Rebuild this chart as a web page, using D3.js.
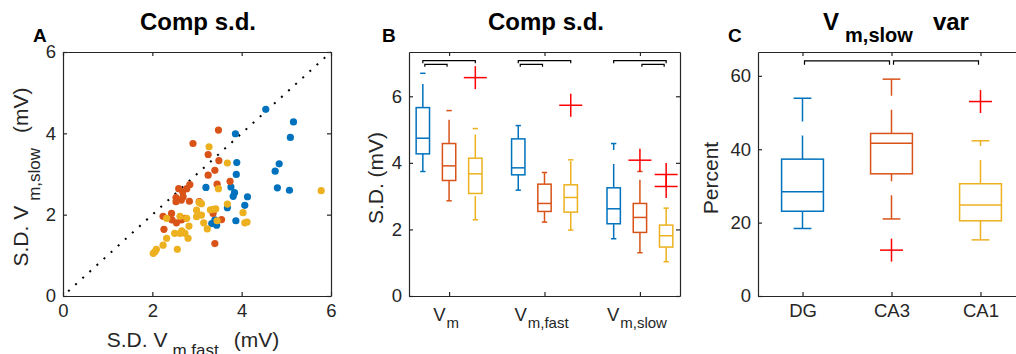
<!DOCTYPE html>
<html lang="en">
<head>
<meta charset="utf-8">
<title>Comp s.d.</title>
<script src="https://cdn.jsdelivr.net/npm/d3@7"></script>
<style>
body { margin: 0; background: #fff; }
svg { display: block; font-family: "Liberation Sans", Arial, sans-serif; }
.axis path, .axis line { stroke: #262626; stroke-width: 1.2; }
.axis text { fill: #262626; font-size: 18.5px; font-family: "Liberation Sans", Arial, sans-serif; }
.title { font-weight: bold; font-size: 24px; fill: #000; }
.letter { font-weight: bold; font-size: 19px; fill: #000; }
.label { font-size: 21px; fill: #262626; }
</style>
</head>
<body>
<svg id="chart" width="1016" height="354"></svg>
<script>
// regions and their colours
var regions = ["DG", "CA3", "CA1"];
var colors = ["#0072BD", "#D95319", "#EDB120"];

// panel A: S.D. of Vm,fast (x) vs S.D. of Vm,slow (y), one dot per cell
var dgFast = [4.54, 5.16, 5.09, 3.86, 4.84, 4.75, 4.80, 5.07, 3.89, 3.88, 3.20, 3.76, 3.84, 3.81, 4.13, 4.07, 3.68, 3.87, 3.36, 3.33, 3.44, 3.40];
var dgSlow = [4.59, 4.28, 3.90, 3.99, 3.25, 3.07, 2.66, 2.60, 3.28, 2.99, 2.67, 2.68, 2.54, 2.45, 2.44, 2.23, 2.17, 1.85, 2.09, 1.78, 1.74, 1.87];
var ca3Fast = [3.48, 2.91, 3.25, 3.49, 3.40, 3.25, 3.74, 3.45, 2.84, 2.77, 2.59, 2.68, 2.65, 2.53, 2.53, 2.69, 2.43, 2.24, 2.44, 2.54, 2.65, 2.73, 2.26, 3.05, 3.36, 3.55, 3.40, 2.83];
var ca3Slow = [4.08, 3.75, 3.48, 3.33, 3.09, 2.97, 2.82, 2.75, 2.74, 2.64, 2.64, 2.56, 2.36, 2.42, 2.32, 2.44, 2.03, 1.96, 1.87, 1.80, 1.87, 1.91, 1.64, 2.32, 2.03, 1.88, 1.29, 2.33];
var ca1Fast = [3.27, 3.68, 3.48, 3.68, 5.78, 4.03, 4.07, 4.12, 3.05, 3.10, 2.99, 3.10, 3.36, 3.42, 3.30, 3.15, 3.23, 3.45, 2.62, 2.77, 2.82, 2.32, 2.99, 2.50, 2.62, 2.73, 2.66, 2.80, 2.32, 2.24, 2.56, 2.09, 2.06, 2.02];
var ca1Slow = [3.67, 3.27, 2.64, 2.26, 2.59, 2.05, 1.80, 1.82, 2.30, 2.27, 2.11, 1.99, 2.13, 2.14, 2.12, 1.80, 1.65, 1.85, 1.96, 1.91, 1.72, 1.91, 1.95, 1.54, 1.54, 1.54, 1.60, 1.42, 1.42, 1.25, 1.15, 1.15, 1.09, 1.05];
var ticksA = [0, 2, 4, 6];

// panel B: box stats per measure, per region: [lower whisker, q1, median, q3, upper whisker]
var measures = ["m", "m,fast", "m,slow"];   // subscripts of V
var boxVm     = [[3.74, 4.27, 4.74, 5.66, 6.69], [2.86, 3.47, 3.91, 4.58, 5.57], [2.29, 3.08, 3.67, 4.14, 5.03]];
var boxVmFast = [[3.18, 3.64, 3.85, 4.72, 5.12], [2.22, 2.54, 2.78, 3.36, 3.71], [1.98, 2.52, 2.96, 3.34, 4.09]];
var boxVmSlow = [[1.72, 2.17, 2.62, 3.25, 4.58], [1.30, 1.91, 2.36, 2.78, 3.74], [1.03, 1.47, 1.81, 2.13, 2.64]];
var outVm     = [[], [], [6.56]];
var outVmFast = [[], [], [5.73]];
var outVmSlow = [[], [4.08], [3.65, 3.29]];
var ticksB = [0, 2, 4, 6];
// significance brackets: [measure, from region, to region, level]
var bracketsB = [[0, 0, 2, 7.07], [0, 0, 1, 6.96], [1, 0, 2, 7.07], [1, 0, 1, 6.96], [2, 0, 2, 7.07], [2, 1, 2, 6.96]];

// panel C: Vm,slow variance (percent)
var boxVar = [[18.4, 23.1, 28.4, 37.3, 53.9], [21.0, 33.3, 41.6, 44.3, 59.1], [15.3, 20.5, 24.8, 30.6, 42.3]];
var outVar = [[], [12.5], [53.0]];
var ticksC = [0, 20, 40, 60];
var bracketsC = [[0, 1, 64.1], [1, 2, 64.1]];

var svg = d3.select("#chart");

// scales
var xA = d3.scaleLinear().domain([0, 6]).range([63, 331]);
var yA = d3.scaleLinear().domain([0, 6]).range([296, 52]);
var xB = d3.scaleLinear().domain([0.58, 3.42]).range([409, 680]);
var yB = d3.scaleLinear().domain([0, 7.33]).range([296, 52]);
var xC = d3.scaleLinear().domain([0.5, 3.5]).range([758, 1025]);
var yC = d3.scaleLinear().domain([0, 66.5]).range([296, 52]);

// draws a boxed MATLAB-like frame with inward ticks on all sides
function frame(x, y, xticks, yticks, xfmt) {
  var x0 = x.range()[0], x1 = x.range()[1], y0 = y.range()[0], y1 = y.range()[1];
  svg.append("g").attr("class", "axis").attr("transform", "translate(0," + y0 + ")")
    .call(d3.axisBottom(x).tickValues(xticks).tickSizeInner(-4).tickSizeOuter(0).tickPadding(8).tickFormat(xfmt || d3.format("d")));
  svg.append("g").attr("class", "axis").attr("transform", "translate(0," + y1 + ")")
    .call(d3.axisTop(x).tickValues(xticks).tickSizeInner(-4).tickSizeOuter(0).tickFormat(""));
  svg.append("g").attr("class", "axis").attr("transform", "translate(" + x0 + ",0)")
    .call(d3.axisLeft(y).tickValues(yticks).tickSizeInner(-4).tickSizeOuter(0).tickPadding(7).tickFormat(d3.format("d")));
  svg.append("g").attr("class", "axis").attr("transform", "translate(" + x1 + ",0)")
    .call(d3.axisRight(y).tickValues(yticks).tickSizeInner(-4).tickSizeOuter(0).tickFormat(""));
}

// one box with dashed whiskers, caps, median and red + outliers
function drawBox(x, y, pos, w, capW, st, outs, color) {
  var g = svg.append("g").attr("stroke", color).attr("stroke-width", 1.5).attr("fill", "none");
  var xc = x(pos), half = (x(pos + w / 2) - x(pos - w / 2)) / 2, capHalf = (x(pos + capW / 2) - x(pos - capW / 2)) / 2;
  // whiskers are drawn from low to high value, like MATLAB does
  g.append("line").attr("x1", xc).attr("x2", xc).attr("y1", y(st[3])).attr("y2", y(st[4])).attr("stroke-dasharray", "23.7,14");
  g.append("line").attr("x1", xc).attr("x2", xc).attr("y1", y(st[0])).attr("y2", y(st[1])).attr("stroke-dasharray", "23.7,14");
  g.append("line").attr("x1", xc - capHalf).attr("x2", xc + capHalf).attr("y1", y(st[4])).attr("y2", y(st[4]));
  g.append("line").attr("x1", xc - capHalf).attr("x2", xc + capHalf).attr("y1", y(st[0])).attr("y2", y(st[0]));
  g.append("rect").attr("x", xc - half).attr("y", y(st[3])).attr("width", 2 * half).attr("height", y(st[1]) - y(st[3]));
  g.append("line").attr("x1", xc - half).attr("x2", xc + half).attr("y1", y(st[2])).attr("y2", y(st[2]));
  outs.forEach(function(v) {
    var o = svg.append("g").attr("stroke", "#ff0000").attr("stroke-width", 1.5);
    o.append("line").attr("x1", xc - 11.5).attr("x2", xc + 11.5).attr("y1", y(v)).attr("y2", y(v));
    o.append("line").attr("x1", xc).attr("x2", xc).attr("y1", y(v) - 11.5).attr("y2", y(v) + 11.5);
  });
}

function bracket(x1, x2, yy, drop) {
  svg.append("path").attr("fill", "none").attr("stroke", "#000").attr("stroke-width", 1.2)
    .attr("d", "M" + x1 + "," + (yy + drop) + "V" + yy + "H" + x2 + "V" + (yy + drop));
}

/* ---------- Panel A ---------- */
svg.append("path")
  .datum([0, 6])
  .attr("fill", "none").attr("stroke", "#000").attr("stroke-width", 2)
  .attr("stroke-dasharray", "2,7.6").attr("stroke-dashoffset", -7)
  .attr("d", d3.line().x(function(d) { return xA(d); }).y(function(d) { return yA(d); }));

var groupsA = [[dgFast, dgSlow], [ca3Fast, ca3Slow], [ca1Fast, ca1Slow]];
groupsA.forEach(function(grp, gi) {
  svg.append("g").selectAll("circle")
    .data(d3.range(grp[0].length))
    .enter().append("circle")
      .attr("cx", function(i) { return xA(grp[0][i]); })
      .attr("cy", function(i) { return yA(grp[1][i]); })
      .attr("r", 3.6)
      .attr("fill", colors[gi]);
});
frame(xA, yA, ticksA, ticksA);

svg.append("text").attr("class", "title").attr("x", 198).attr("y", 30).attr("text-anchor", "middle").text("Comp s.d.");
svg.append("text").attr("class", "letter").attr("x", 33).attr("y", 42).text("A");

var xlabA = svg.append("text").attr("class", "label").attr("x", 193).attr("y", 347).attr("text-anchor", "middle");
xlabA.append("tspan").text("S.D. V");
xlabA.append("tspan").attr("dx", 5).attr("dy", 8.5).attr("font-size", 17).text("m,fast");
xlabA.append("tspan").attr("dx", 15).attr("dy", -8.5).text("(mV)");

var ylabA = svg.append("text").attr("class", "label").attr("text-anchor", "middle")
  .attr("transform", "translate(28,177) rotate(-90)");
ylabA.append("tspan").text("S.D. V");
ylabA.append("tspan").attr("dx", 5).attr("dy", 12).attr("font-size", 17).text("m,slow");
ylabA.append("tspan").attr("dx", 15).attr("dy", -12).text("(mV)");

/* ---------- Panel B ---------- */
var boxesB = [boxVm, boxVmFast, boxVmSlow];
var outsB = [outVm, outVmFast, outVmSlow];
var offsetB = [-0.275, 0, 0.275];
boxesB.forEach(function(m, mi) {
  m.forEach(function(st, ri) {
    drawBox(xB, yB, mi + 1 + offsetB[ri], 0.14, 0.056, st, outsB[mi][ri], colors[ri]);
  });
});
bracketsB.forEach(function(b) {
  var inset = b[3] < 7 ? 2 : 0;
  bracket(xB(b[0] + 1 + offsetB[b[1]]) + inset, xB(b[0] + 1 + offsetB[b[2]]) - inset, yB(b[3]), 2.5);
});
frame(xB, yB, [1, 2, 3], ticksB, function() { return ""; });
// subscripted category labels
measures.forEach(function(s, i) {
  var t = svg.append("text").attr("class", "label").style("font-size", "18.5px")
    .attr("x", xB(i + 1) - 3).attr("y", 321).attr("text-anchor", "middle");
  t.append("tspan").text("V");
  t.append("tspan").attr("dx", 1).attr("dy", 7).style("font-size", "15px").text(s);
});
svg.append("text").attr("class", "title").attr("x", 546).attr("y", 30).attr("text-anchor", "middle").text("Comp s.d.");
svg.append("text").attr("class", "letter").attr("x", 382).attr("y", 42).text("B");
svg.append("text").attr("class", "label").attr("text-anchor", "middle")
  .attr("transform", "translate(383,178) rotate(-90)").text("S.D. (mV)");

/* ---------- Panel C ---------- */
boxVar.forEach(function(st, ri) {
  drawBox(xC, yC, ri + 1, 0.47, 0.2, st, outVar[ri], colors[ri]);
});
bracketsC.forEach(function(b) {
  bracket(xC(b[0] + 1) + 2, xC(b[1] + 1) - 2, yC(b[2]), 4);
});
frame(xC, yC, [1, 2, 3], ticksC, function(d) { return regions[d - 1]; });
var titleC = svg.append("text").attr("class", "title").attr("x", 896).attr("y", 30).attr("text-anchor", "middle");
titleC.append("tspan").text("V");
titleC.append("tspan").attr("dx", 6).attr("dy", 11.7).style("font-size", "20px").text("m,slow");
titleC.append("tspan").attr("dx", 20).attr("dy", -11.7).text("var");
svg.append("text").attr("class", "letter").attr("x", 728).attr("y", 42).text("C");
svg.append("text").attr("class", "label").attr("text-anchor", "middle")
  .attr("transform", "translate(718,178) rotate(-90)").text("Percent");
</script>
</body>
</html>
